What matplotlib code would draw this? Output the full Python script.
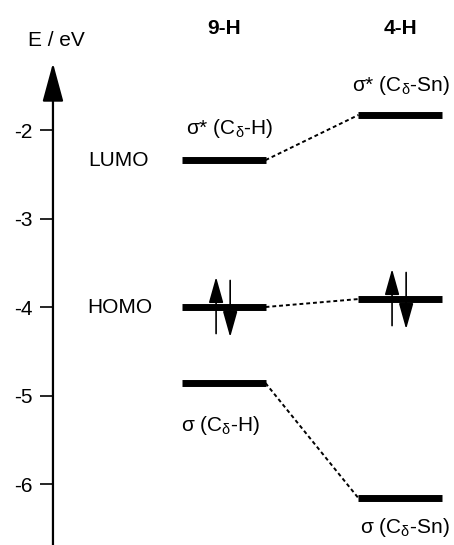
import matplotlib.pyplot as plt

plt.rcParams['font.family'] = 'Liberation Sans'
plt.rcParams['mathtext.fontset'] = 'custom'
plt.rcParams['mathtext.rm'] = 'Liberation Sans'
plt.rcParams['mathtext.it'] = 'Liberation Sans'
plt.rcParams['axes.unicode_minus'] = False

# orbital energies (eV)
molecules = ['9-H', '4-H']
lumo = [-2.34, -1.83]
homo = [-4.00, -3.91]
sigma = [-4.86, -6.16]
lumo_labels = [r'σ* (C$_\delta$-H)', r'σ* (C$_\delta$-Sn)']
sigma_labels = [r'σ (C$_\delta$-H)', r'σ (C$_\delta$-Sn)']
yticks = [-2, -3, -4, -5, -6]

fs = 15
hw = 0.236  # half width of a level
xpos = [0, 1]
x_axis = -0.972

fig = plt.figure(figsize=(4.54, 5.45), dpi=100)
ax = fig.add_axes([0, 0, 1, 1])
ax.set_xlim(-1.273, 1.307)
ax.set_ylim(-6.689, -0.531)
for s in ['top', 'right', 'bottom', 'left']:
    ax.spines[s].set_visible(False)
ax.spines['left'].set_position(('data', x_axis))
ax.set_xticks([])
ax.set_yticks(yticks)
ax.set_yticklabels([str(t) for t in yticks], fontsize=fs)
ax.tick_params(axis='y', length=9.4, width=1.2, pad=5)

# energy axis with arrow head
ax.annotate('', xy=(x_axis, -1.243), xytext=(x_axis, ax.get_ylim()[0]),
            arrowprops=dict(arrowstyle='-|>,head_length=24,head_width=6.5',
                            mutation_scale=1, lw=1.6, color='black',
                            shrinkA=0, shrinkB=0))
ax.text(x_axis + 0.017, -0.983, 'E / eV', fontsize=fs, ha='center', va='center')

# levels
for levels in (lumo, homo, sigma):
    ax.hlines(levels, [x - hw for x in xpos], [x + hw for x in xpos],
              color='black', lw=5, capstyle='butt')
    ax.plot([xpos[0] + hw, xpos[1] - hw], levels, color='black', lw=1.4,
            linestyle=(0, (2.0, 1.5)))

# electron pairs
arrow = dict(arrowstyle='-|>,head_length=16,head_width=4.5',
             mutation_scale=1, lw=1.2, color='black', shrinkA=0, shrinkB=0)
for x, e in zip(xpos, homo):
    ax.annotate('', xy=(x - 0.045, e + 0.34), xytext=(x - 0.045, e - 0.30),
                arrowprops=arrow)
    ax.annotate('', xy=(x + 0.035, e - 0.34), xytext=(x + 0.035, e + 0.30),
                arrowprops=arrow)

# labels
for x, name in zip(xpos, molecules):
    ax.text(x, -0.848, name, fontsize=fs, fontweight='bold',
            ha='center', va='center')
ax.text(-0.60, lumo[0], 'LUMO', fontsize=fs, ha='center', va='center')
ax.text(-0.59, homo[0], 'HOMO', fontsize=fs, ha='center', va='center')
ax.text(xpos[0] + 0.03, lumo[0] + 0.36, lumo_labels[0], fontsize=fs,
        ha='center', va='center')
ax.text(xpos[1] + 0.005, lumo[1] + 0.33, lumo_labels[1], fontsize=fs,
        ha='center', va='center')
ax.text(xpos[0] - 0.02, sigma[0] - 0.48, sigma_labels[0], fontsize=fs,
        ha='center', va='center')
ax.text(xpos[1] + 0.03, sigma[1] - 0.33, sigma_labels[1], fontsize=fs,
        ha='center', va='center')

fig.savefig('out.png', dpi=100)
